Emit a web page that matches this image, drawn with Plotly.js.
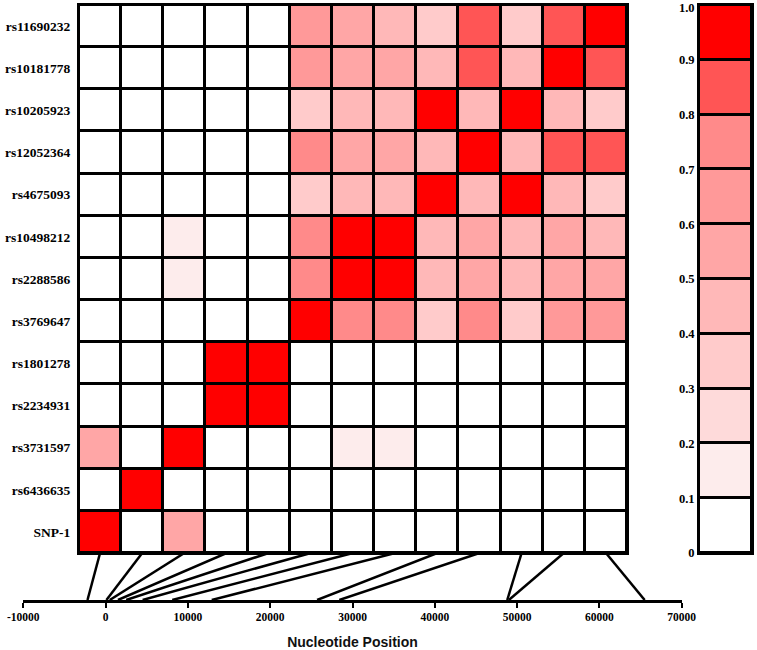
<!DOCTYPE html>
<html>
<head>
<meta charset="utf-8">
<script src="https://cdn.plot.ly/plotly-3.0.1.min.js"></script>
<style>
  html, body { margin: 0; padding: 0; background: #fff; }
  #chart { width: 757px; height: 650px; }
</style>
</head>
<body>
<div id="chart"></div>
<script>
(function () {
  'use strict';

  // ─── Data ────────────────────────────────────────────────────────────────────
  // SNPs, bottom row / left column first
  var snps = ['SNP-1', 'rs6436635', 'rs3731597', 'rs2234931', 'rs1801278',
              'rs3769647', 'rs2288586', 'rs10498212', 'rs4675093',
              'rs12052364', 'rs10205923', 'rs10181778', 'rs11690232'];

  // nucleotide position of each SNP
  var positions = [-2200, 100, 500, 1500, 2500, 4500, 8100, 12900,
                   25700, 28400, 48800, 49000, 65500];

  // pairwise LD values, row i = snps[i]
  var ld = [
    [1,    0,    0.55, 0,    0,    0,    0,    0,    0,    0,    0,    0,    0   ],
    [0,    1,    0,    0,    0,    0,    0,    0,    0,    0,    0,    0,    0   ],
    [0.55, 0,    1,    0,    0,    0,    0.15, 0.15, 0,    0,    0,    0,    0   ],
    [0,    0,    0,    1,    1,    0,    0,    0,    0,    0,    0,    0,    0   ],
    [0,    0,    0,    1,    1,    0,    0,    0,    0,    0,    0,    0,    0   ],
    [0,    0,    0,    0,    0,    1,    0.75, 0.75, 0.35, 0.75, 0.35, 0.65, 0.65],
    [0,    0,    0.15, 0,    0,    0.75, 1,    1,    0.45, 0.55, 0.45, 0.55, 0.55],
    [0,    0,    0.15, 0,    0,    0.75, 1,    1,    0.45, 0.55, 0.45, 0.55, 0.45],
    [0,    0,    0,    0,    0,    0.35, 0.45, 0.45, 1,    0.45, 1,    0.45, 0.35],
    [0,    0,    0,    0,    0,    0.75, 0.55, 0.55, 0.45, 1,    0.45, 0.85, 0.85],
    [0,    0,    0,    0,    0,    0.35, 0.45, 0.45, 1,    0.45, 1,    0.45, 0.35],
    [0,    0,    0,    0,    0,    0.65, 0.55, 0.55, 0.45, 0.85, 0.45, 1,    0.85],
    [0,    0,    0,    0,    0,    0.65, 0.55, 0.45, 0.35, 0.85, 0.35, 0.85, 1   ]
  ];

  // legend bins
  var binEdges  = [0, 0.1, 0.2, 0.3, 0.4, 0.5, 0.6, 0.7, 0.8, 0.9, 1.0];
  var binLabels = ['0', '0.1', '0.2', '0.3', '0.4', '0.5', '0.6', '0.7', '0.8', '0.9', '1.0'];
  var binColors = ['#ffffff', '#fdecec', '#fedada', '#ffcbcb', '#ffb8b8',
                   '#ffa6a6', '#ff9999', '#ff8a8a', '#ff5555', '#ff0000'];

  var axisTicks = [-10000, 0, 10000, 20000, 30000, 40000, 50000, 60000, 70000];

  // ─── Layout geometry ─────────────────────────────────────────────────────────
  var W = 757, H = 650;
  var gridX  = [79 / W, 627 / W];
  var gridY  = [1 - 553 / H, 1 - 5 / H];
  var legX   = [699 / W, 752 / W];
  var posX   = [23.3 / W, 681.7 / W];
  var posY   = [1 - 600 / H, 1 - 553 / H];
  var posRange = [-10000, 70000];

  // stepped colour scale
  var colorscale = [];
  binColors.forEach(function (c, i) {
    colorscale.push([binEdges[i], c]);
    colorscale.push([binEdges[i + 1], c]);
  });

  var serifBold = { family: 'Liberation Serif, Times New Roman, serif', size: 13.5, color: '#000', weight: 'bold' };

  var idx = snps.map(function (s, i) { return i; });

  // top legend label nudged down a little so it stays inside the page
  var legTickVals = binEdges.map(function (v, i) { return i === binEdges.length - 1 ? v - 0.005 : v; });

  // ─── Traces ──────────────────────────────────────────────────────────────────
  var heat = {
    type: 'heatmap', x: idx, y: idx, z: ld,
    zmin: 0, zmax: 1, colorscale: colorscale, showscale: false,
    xgap: 3, ygap: 3, hoverinfo: 'skip',
    xaxis: 'x', yaxis: 'y'
  };

  var binMid = binColors.map(function (c, i) { return (binEdges[i] + binEdges[i + 1]) / 2; });
  var legend = {
    type: 'heatmap', x: [0], y: binMid,
    z: binMid.map(function (v) { return [v]; }),
    zmin: 0, zmax: 1, colorscale: colorscale, showscale: false,
    xgap: 3, ygap: 3, hoverinfo: 'skip',
    xaxis: 'x2', yaxis: 'y2'
  };

  // connector lines: column centre (top) -> nucleotide position (bottom)
  function colToPos(c) {
    var px = gridX[0] + (c + 0.5) / snps.length * (gridX[1] - gridX[0]);
    return posRange[0] + (px - posX[0]) / (posX[1] - posX[0]) * (posRange[1] - posRange[0]);
  }
  var lx = [], ly = [];
  positions.forEach(function (p, i) {
    lx.push(colToPos(i), p, null);
    ly.push(1, 0, null);
  });
  var links = {
    type: 'scatter', mode: 'lines', x: lx, y: ly,
    line: { color: '#000', width: 2.5 }, hoverinfo: 'skip', showlegend: false,
    xaxis: 'x3', yaxis: 'y3'
  };

  // ─── Layout ──────────────────────────────────────────────────────────────────
  var frame = { showline: true, mirror: true, linecolor: '#000', linewidth: 2,
                showgrid: false, zeroline: false, fixedrange: true };

  var layout = {
    width: W, height: H,
    margin: { l: 0, r: 0, t: 0, b: 0 },
    paper_bgcolor: '#fff', plot_bgcolor: 'rgba(0,0,0,0)',
    showlegend: false,
    xaxis: Object.assign({}, frame, { domain: gridX, range: [-0.5, 12.5], showticklabels: false, ticks: '' }),
    yaxis: Object.assign({}, frame, {
      domain: gridY, range: [-0.5, 12.5], tickvals: idx, ticktext: snps,
      ticks: '', tickfont: serifBold, ticklabelstandoff: 4, automargin: false,
      ticklabeloverflow: 'allow'
    }),
    xaxis2: Object.assign({}, frame, { domain: legX, range: [-0.5, 0.5], showticklabels: false, ticks: '', anchor: 'y2' }),
    yaxis2: Object.assign({}, frame, {
      domain: gridY, range: [0, 1], anchor: 'x2', side: 'left',
      tickvals: legTickVals, ticktext: binLabels, ticks: '', ticklabelstandoff: 0,
      tickfont: Object.assign({}, serifBold, { size: 12.5 }), automargin: false,
      ticklabeloverflow: 'allow'
    }),
    xaxis3: {
      domain: posX, range: posRange, anchor: 'y3',
      showline: true, linecolor: '#000', linewidth: 2.5,
      ticks: 'outside', ticklen: 5, tickwidth: 2, tickcolor: '#000',
      tickvals: axisTicks, ticktext: axisTicks.map(String),
      tickfont: Object.assign({}, serifBold, { size: 11.5 }),
      ticklabeloverflow: 'allow',
      showgrid: false, zeroline: false, fixedrange: true, automargin: false,
      title: { text: 'Nucleotide Position', standoff: 22,
               font: { family: 'Liberation Sans, Arial, sans-serif', size: 14, color: '#111', weight: 'bold' } }
    },
    yaxis3: { domain: posY, range: [0, 1], anchor: 'x3', visible: false, fixedrange: true },
    shapes: [
      { type: 'rect', xref: 'x domain', yref: 'y domain', x0: 0, x1: 1, y0: 0, y1: 1,
        fillcolor: '#000', line: { width: 0 }, layer: 'below' },
      { type: 'rect', xref: 'x2 domain', yref: 'y2 domain', x0: 0, x1: 1, y0: 0, y1: 1,
        fillcolor: '#000', line: { width: 0 }, layer: 'below' }
    ]
  };

  Plotly.newPlot('chart', [heat, legend, links], layout, { displayModeBar: false, staticPlot: true });
})();
</script>
</body>
</html>
